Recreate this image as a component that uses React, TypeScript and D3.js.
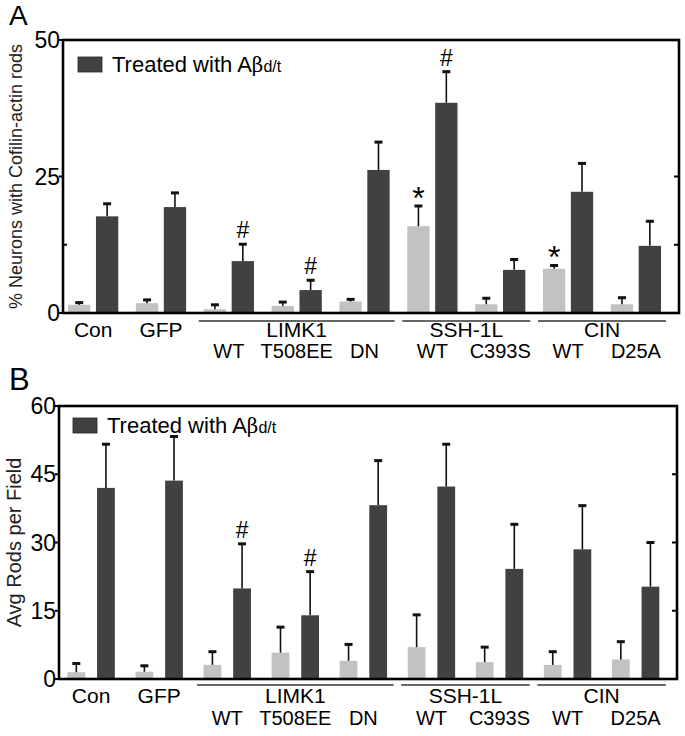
import * as d3 from "d3";

// ── Data ──────────────────────────────────────────────────
const conditions = ["Con", "GFP", "LIMK1-WT", "LIMK1-T508EE", "LIMK1-DN", "SSH-WT", "SSH-C393S", "CIN-WT", "CIN-D25A"];
const topLabels  = ["Con", "GFP", "", "", "", "", "", "", ""];
const subLabels  = ["", "", "WT", "T508EE", "DN", "WT", "C393S", "WT", "D25A"];
const groupSpans = [
  { name: "LIMK1",  from: 2, to: 4 },
  { name: "SSH-1L", from: 5, to: 6 },
  { name: "CIN",    from: 7, to: 8 },
];

// panel A: % neurons with cofilin-actin rods
const aUntreated    = [1.5, 1.8, 0.7, 1.3, 2.1, 15.9, 1.6, 8.1, 1.6];
const aUntreatedErr = [0.4, 0.6, 0.8, 0.7, 0.4, 3.7, 1.1, 0.6, 1.2];
const aTreated      = [17.7, 19.4, 9.5, 4.2, 26.2, 38.5, 7.9, 22.2, 12.3];
const aTreatedErr   = [2.3, 2.6, 3.1, 1.8, 5.1, 5.7, 1.9, 5.2, 4.5];
const aHash = [2, 3, 5];   // treated bars with #
const aStar = [5, 7];      // untreated bars with *
const aTicks = [0, 25, 50];
const aMinor = [12.5];

// panel B: avg rods per field
const bUntreated    = [1.5, 1.6, 3.1, 5.8, 4.0, 7.0, 3.7, 3.1, 4.3];
const bUntreatedErr = [1.9, 1.3, 2.9, 5.6, 3.6, 7.1, 3.3, 2.9, 3.9];
const bTreated      = [42.0, 43.6, 19.9, 14.0, 38.2, 42.3, 24.2, 28.5, 20.3];
const bTreatedErr   = [9.6, 9.7, 9.8, 9.6, 9.8, 9.3, 9.8, 9.6, 9.7];
const bHash = [2, 3];
const bStar: number[] = [];
const bTicks = [0, 15, 30, 45, 60];

// ── Colors / fonts ───────────────────────────────────────
const LIGHT = "#c2c2c2";
const DARK  = "#414141";
const FONT  = "'Liberation Sans', Arial, sans-serif";

type PanelProps = {
  letter: string; letterY: number; letterSize: number;
  left: number; right: number; top: number; bottom: number;
  yMax: number; ticks: number[]; minor: number[]; rightTicks: number[];
  untreated: number[]; untreatedErr: number[]; treated: number[]; treatedErr: number[];
  hash: number[]; star: number[];
  align: number; innerPad: number; innerOuter: number;
  yTitle: string; yTitleSize: number; yTitleX: number;
  legendX: number; legendY: number;
  lineY: number; labelY: number; subY: number;
};

function Panel(p: PanelProps) {
  const x = d3.scaleBand().domain(conditions).range([p.left, p.right])
    .paddingInner(0.26).paddingOuter(0.17).align(p.align);
  const inner = d3.scaleBand().domain(["u", "t"]).range([0, x.bandwidth()])
    .paddingInner(p.innerPad).paddingOuter(p.innerOuter);
  const y = d3.scaleLinear().domain([0, p.yMax]).range([p.bottom, p.top]);
  const bw = inner.bandwidth();

  const bars = conditions.flatMap((c, i) => [
    { c, i, kind: "u", v: p.untreated[i], e: p.untreatedErr[i], fill: LIGHT },
    { c, i, kind: "t", v: p.treated[i], e: p.treatedErr[i], fill: DARK },
  ]);
  const cx = (c: string, k: string) => (x(c) as number) + (inner(k) as number) + bw / 2;

  return (
    <g fontFamily={FONT}>
      <text x={9} y={p.letterY} fontSize={p.letterSize}>{p.letter}</text>

      {/* bars */}
      {bars.map(b => (
        <rect key={b.c + b.kind} x={(x(b.c) as number) + (inner(b.kind) as number)} y={y(b.v)}
          width={bw} height={p.bottom - y(b.v)} fill={b.fill} />
      ))}

      {/* error bars */}
      {bars.map(b => {
        const xc = cx(b.c, b.kind);
        return (
          <g key={"e" + b.c + b.kind}>
            <line x1={xc} x2={xc} y1={y(b.v)} y2={y(b.v + b.e)} stroke="#111" strokeWidth={1.6} />
            <line x1={xc - 4} x2={xc + 4} y1={y(b.v + b.e)} y2={y(b.v + b.e)} stroke="#111" strokeWidth={3} />
          </g>
        );
      })}

      {/* significance marks */}
      {p.hash.map(i => (
        <text key={"h" + i} x={cx(conditions[i], "t")} y={y(p.treated[i] + p.treatedErr[i]) - 6}
          fontSize={23} textAnchor="middle">#</text>
      ))}
      {p.star.map(i => (
        <text key={"s" + i} x={cx(conditions[i], "u")} y={y(p.untreated[i] + p.untreatedErr[i]) + 3}
          fontSize={32} textAnchor="middle">*</text>
      ))}

      {/* frame */}
      <rect x={p.left} y={p.top} width={p.right - p.left} height={p.bottom - p.top}
        fill="none" stroke="#000" strokeWidth={2.6} />

      {/* left ticks + labels */}
      {p.ticks.map(t => (
        <g key={"t" + t}>
          <line x1={p.left - 4} x2={p.left} y1={y(t)} y2={y(t)} stroke="#000" strokeWidth={2} />
          <text x={p.left - 3} y={y(t) + 8} fontSize={23} textAnchor="end">{t}</text>
        </g>
      ))}
      {p.minor.map(t => (
        <line key={"m" + t} x1={p.left} x2={p.left + 4} y1={y(t)} y2={y(t)} stroke="#000" strokeWidth={2} />
      ))}
      {p.rightTicks.map(t => (
        <line key={"r" + t} x1={p.right - 5} x2={p.right} y1={y(t)} y2={y(t)} stroke="#000" strokeWidth={2} />
      ))}

      {/* y title */}
      <text transform={`translate(${p.yTitleX},${(p.top + p.bottom) / 2}) rotate(-90)`}
        fontSize={p.yTitleSize} textAnchor="middle" fill="#222">{p.yTitle}</text>

      {/* legend */}
      <rect x={p.legendX} y={p.legendY - 15} width={24} height={15} fill={DARK} stroke="#222" strokeWidth={0.8} />
      <text x={p.legendX + 34} y={p.legendY} fontSize={22}>
        Treated with A<tspan fontFamily="'DejaVu Serif', serif" fontSize={20}>β</tspan><tspan fontSize={16}>d/t</tspan>
      </text>

      {/* category labels */}
      {conditions.map((c, i) => (
        <g key={"l" + c}>
          {topLabels[i] && (
            <text x={(x(c) as number) + x.bandwidth() / 2} y={p.labelY} fontSize={21} textAnchor="middle">{topLabels[i]}</text>
          )}
          {subLabels[i] && (
            <text x={(x(c) as number) + x.bandwidth() / 2} y={p.subY} fontSize={20} textAnchor="middle">{subLabels[i]}</text>
          )}
        </g>
      ))}
      {groupSpans.map(g => {
        const x0 = (x(conditions[g.from]) as number) - 5;
        const x1 = (x(conditions[g.to]) as number) + x.bandwidth() + 5;
        return (
          <g key={g.name}>
            <line x1={x0} x2={x1} y1={p.lineY} y2={p.lineY} stroke="#333" strokeWidth={1.3} />
            <text x={(x0 + x1) / 2} y={p.labelY} fontSize={21} textAnchor="middle">{g.name}</text>
          </g>
        );
      })}
    </g>
  );
}

export default function App() {
  return (
    <svg width={685} height={736} viewBox="0 0 685 736"
      style={{ position: "absolute", left: 0, top: 0, background: "#fff" }}>
      <Panel letter="A" letterY={25} letterSize={28}
        left={63} right={679} top={40} bottom={313}
        yMax={50} ticks={aTicks} minor={aMinor} rightTicks={[12.5, 25]}
        untreated={aUntreated} untreatedErr={aUntreatedErr} treated={aTreated} treatedErr={aTreatedErr}
        hash={aHash} star={aStar} align={0.22} innerPad={0.2} innerOuter={0}
        yTitle="% Neurons with Cofilin-actin rods" yTitleSize={18} yTitleX={22}
        legendX={78} legendY={72} lineY={321} labelY={337} subY={358} />
      <Panel letter="B" letterY={390} letterSize={31}
        left={59} right={677} top={406} bottom={679}
        yMax={60} ticks={bTicks} minor={[]} rightTicks={[15, 30, 45]}
        untreated={bUntreated} untreatedErr={bUntreatedErr} treated={bTreated} treatedErr={bTreatedErr}
        hash={bHash} star={bStar} align={0.3} innerPad={0.4} innerOuter={0.05}
        yTitle="Avg Rods per Field" yTitleSize={20} yTitleX={21}
        legendX={73} legendY={433} lineY={685} labelY={703} subY={725} />
    </svg>
  );
}
